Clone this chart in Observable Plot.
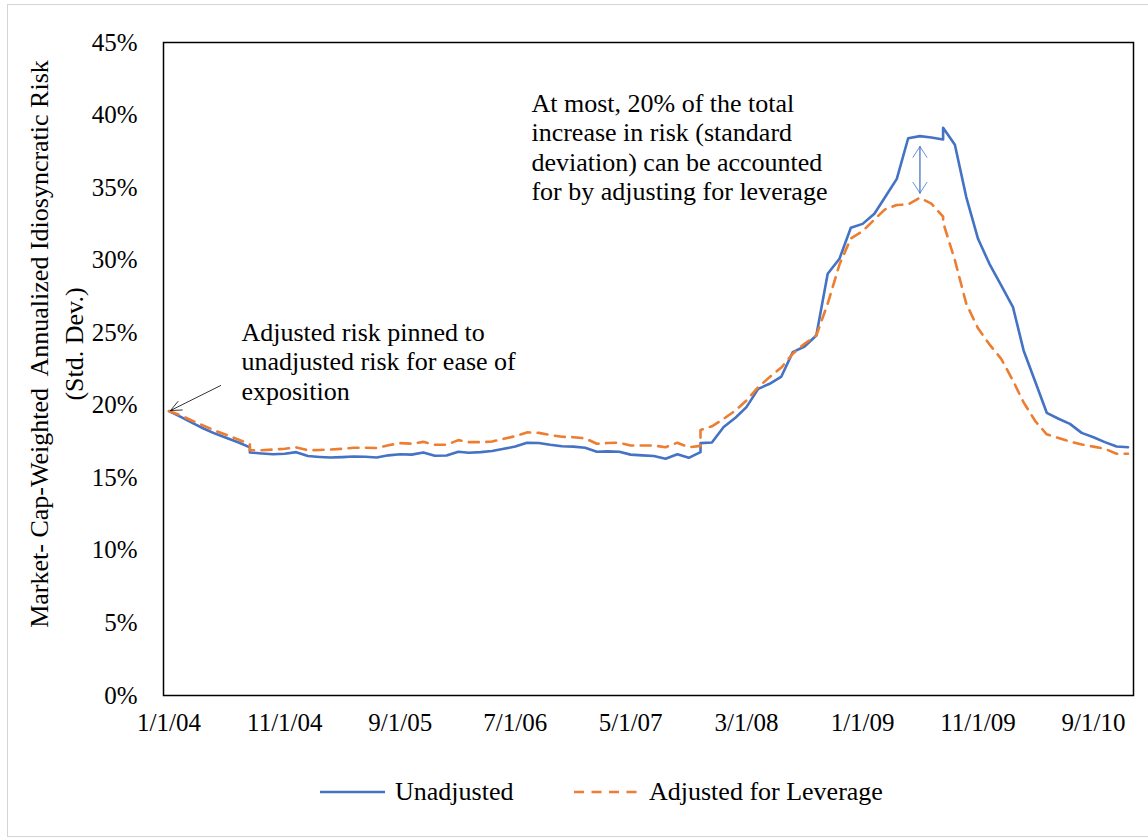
<!DOCTYPE html>
<html>
<head>
<meta charset="utf-8">
<script src="https://cdn.jsdelivr.net/npm/d3@7"></script>
<script src="https://cdn.jsdelivr.net/npm/@observablehq/plot@0.6"></script>
<style>
  html, body { margin: 0; padding: 0; background: #fff; }
  #wrap { position: relative; width: 1148px; height: 838px; overflow: hidden;
          font-family: "Liberation Serif", "Times New Roman", serif; color: #000; }
  #border { position: absolute; left: 7px; top: 4px; width: 1145px; height: 833px;
            border: 1px solid #d4d4d4; box-sizing: border-box; }
  #chart { position: absolute; left: 0; top: 0; }
  .leg { position: absolute; top: 776px; height: 32px; display: flex; align-items: center; font-size: 26px; white-space: nowrap; }
  .leg svg { margin-right: 10px; }
</style>
</head>
<body>
<div id="wrap">
  <div id="border"></div>
  <div id="chart"></div>
  <div class="leg" style="left:320px"><svg width="65" height="10"><line x1="0" x2="65" y1="5" y2="5" stroke="#4472C4" stroke-width="2.6"/></svg><span>Unadjusted</span></div>
  <div class="leg" style="left:574px"><svg width="65" height="10"><line x1="0" x2="65" y1="5" y2="5" stroke="#ED7D31" stroke-width="2.6" stroke-dasharray="10,7.5"/></svg><span>Adjusted for Leverage</span></div>
</div>
<script>
// ---- Data (monthly, percent). A few months appear twice (vertical steps in the source).
const months = [
  "2004-01","2004-02","2004-03","2004-04","2004-05","2004-06","2004-07","2004-08","2004-08","2004-09","2004-10","2004-11","2004-12",
  "2005-01","2005-02","2005-03","2005-04","2005-05","2005-06","2005-07","2005-08","2005-09","2005-10","2005-11","2005-12",
  "2006-01","2006-02","2006-03","2006-04","2006-05","2006-06","2006-07","2006-08","2006-09","2006-10","2006-11","2006-12",
  "2007-01","2007-02","2007-03","2007-04","2007-05","2007-06","2007-07","2007-08","2007-09","2007-10","2007-11","2007-11","2007-12",
  "2008-01","2008-02","2008-03","2008-04","2008-05","2008-06","2008-07","2008-08","2008-09","2008-10","2008-11","2008-12",
  "2009-01","2009-02","2009-03","2009-04","2009-05","2009-06","2009-07","2009-08","2009-08","2009-09","2009-10","2009-11","2009-12",
  "2010-01","2010-02","2010-03","2010-04","2010-05","2010-06","2010-07","2010-08","2010-09","2010-10","2010-11","2010-12"
];
const unadjusted = [
  19.6,19.2,18.8,18.4,18.05,17.75,17.45,17.1,16.75,16.68,16.62,16.66,16.77,
  16.5,16.44,16.4,16.43,16.47,16.45,16.4,16.55,16.62,16.6,16.75,16.52,
  16.54,16.8,16.73,16.77,16.85,17.0,17.16,17.42,17.4,17.28,17.18,17.15,
  17.07,16.8,16.82,16.8,16.6,16.55,16.5,16.32,16.63,16.38,16.77,17.39,17.44,
  18.5,19.14,19.87,21.13,21.48,21.98,23.66,24.05,24.81,29.06,30.1,32.23,
  32.5,33.2,34.34,35.6,38.4,38.55,38.45,38.32,39.12,37.95,34.35,31.47,29.75,
  28.26,26.76,23.78,21.6,19.48,19.07,18.72,18.1,17.8,17.46,17.16,17.11
];
const adjusted = [
  19.6,19.3,18.95,18.6,18.25,17.95,17.65,17.3,16.9,16.9,16.95,17.0,17.1,
  16.9,16.92,16.95,17.0,17.07,17.07,17.05,17.25,17.39,17.35,17.48,17.28,
  17.28,17.6,17.46,17.46,17.5,17.69,17.87,18.13,18.1,17.95,17.83,17.8,
  17.72,17.35,17.4,17.42,17.23,17.23,17.23,17.11,17.42,17.11,17.2,18.3,18.55,
  19.07,19.64,20.33,21.25,21.94,22.6,23.55,24.24,24.81,27.0,29.7,31.5,
  32.0,32.8,33.5,33.8,33.85,34.3,33.9,33.0,32.6,30.0,27.0,25.3,24.2,
  23.2,21.7,20.2,18.9,18.0,17.75,17.5,17.3,17.15,17.0,16.66,16.66
];
const xTickDates = ["2004-01-01","2004-11-01","2005-09-01","2006-07-01","2007-05-01","2008-03-01","2009-01-01","2009-11-01","2010-09-01"];
const xTickLabels = ["1/1/04","11/1/04","9/1/05","7/1/06","5/1/07","3/1/08","1/1/09","11/1/09","9/1/10"];
const yTicks = [0,5,10,15,20,25,30,35,40,45];
const seriesNames = ["Unadjusted","Adjusted for Leverage"];
const yTitle = ["Market- Cap-Weighted  Annualized Idiosyncratic Risk", "(Std. Dev.)"];
const note1 = {date: "2004-07-11", value: 24.42, lines: ["Adjusted risk pinned to","unadjusted risk for ease of","exposition"]};
const note2 = {date: "2006-08-14", value: 40.2, lines: ["At most, 20% of the total","increase in risk (standard","deviation) can be accounted","for by adjusting for leverage"]};
const pinArrow = {from: ["2004-05-16", 21.36], to: ["2004-01-05", 19.64]};
const gapArrow = {date: "2009-06-01", top: 37.83, bottom: 34.62};

// ---- Build
const parseM = d3.utcParse("%Y-%m");
const parseD = d3.utcParse("%Y-%m-%d");
const rows = months.map((m, i) => ({date: parseM(m), unadjusted: unadjusted[i], adjusted: adjusted[i]}));
const tickDates = xTickDates.map(parseD);

const BLUE = "#4472C4", ORANGE = "#ED7D31";
const SERIF = '"Liberation Serif", "Times New Roman", serif';
const chart = Plot.plot({
  width: 1148,
  height: 740,
  marginLeft: 163,
  marginRight: 15,
  marginTop: 42,
  marginBottom: 45,
  style: {fontFamily: SERIF, fontSize: "25px", color: "#000", background: "transparent", overflow: "visible"},
  x: {type: "utc", domain: [new Date(Date.UTC(2003, 11, 17, 12)), new Date(Date.UTC(2010, 11, 15, 12))],
      ticks: tickDates, tickFormat: d => xTickLabels[tickDates.findIndex(t => +t === +d)],
      tickSize: 0, tickPadding: 18, label: null},
  y: {domain: [0, 45], ticks: yTicks, tickFormat: d => d + "%", tickSize: 0, tickPadding: 26, label: null},
  marks: [
    Plot.lineY(rows, {x: "date", y: "unadjusted", stroke: BLUE, strokeWidth: 2.6, title: () => seriesNames[0]}),
    Plot.lineY(rows, {x: "date", y: "adjusted", stroke: ORANGE, strokeWidth: 2.6, strokeDasharray: "10,7.5", title: () => seriesNames[1]}),
    Plot.arrow([pinArrow], {x1: d => parseD(d.from[0]), y1: d => d.from[1], x2: d => parseD(d.to[0]), y2: d => d.to[1],
      stroke: "#000", strokeWidth: 0.8, headLength: 22, headAngle: 48}),
    Plot.arrow([gapArrow], {x1: d => parseD(d.date), y1: "bottom", x2: d => parseD(d.date), y2: "top",
      stroke: BLUE, strokeWidth: 0.8, headLength: 24, headAngle: 66}),
    Plot.arrow([gapArrow], {x1: d => parseD(d.date), y1: "top", x2: d => parseD(d.date), y2: "bottom",
      stroke: BLUE, strokeWidth: 0.8, headLength: 24, headAngle: 66}),
    Plot.frame({stroke: "#000", strokeWidth: 1.5})
  ]
});
document.getElementById("chart").appendChild(chart);

// ---- Text annotations positioned through the chart's scales
const sx = chart.scale("x"), sy = chart.scale("y");
const svg = d3.select(chart);
function addNote(note) {
  const x0 = sx.apply(parseD(note.date)), y0 = sy.apply(note.value);
  const t = svg.append("text")
    .style("font-family", SERIF).style("font-size", "26px").style("fill", "#000")
    .style("text-anchor", "start");
  note.lines.forEach((ln, i) => t.append("tspan").attr("x", x0).attr("y", y0 + i * 29.5).text(ln));
}
addNote(note1);
addNote(note2);

// ---- Y axis title (two rotated lines)
const titleCenterY = 344;
[[48, yTitle[0]], [83, yTitle[1]]].forEach(([bx, txt]) => {
  svg.append("text")
    .style("font-family", SERIF).style("font-size", "26px").style("fill", "#000")
    .style("text-anchor", "middle").style("white-space", "pre")
    .attr("transform", `translate(${bx},${titleCenterY}) rotate(-90)`)
    .text(txt);
});
</script>
</body>
</html>
